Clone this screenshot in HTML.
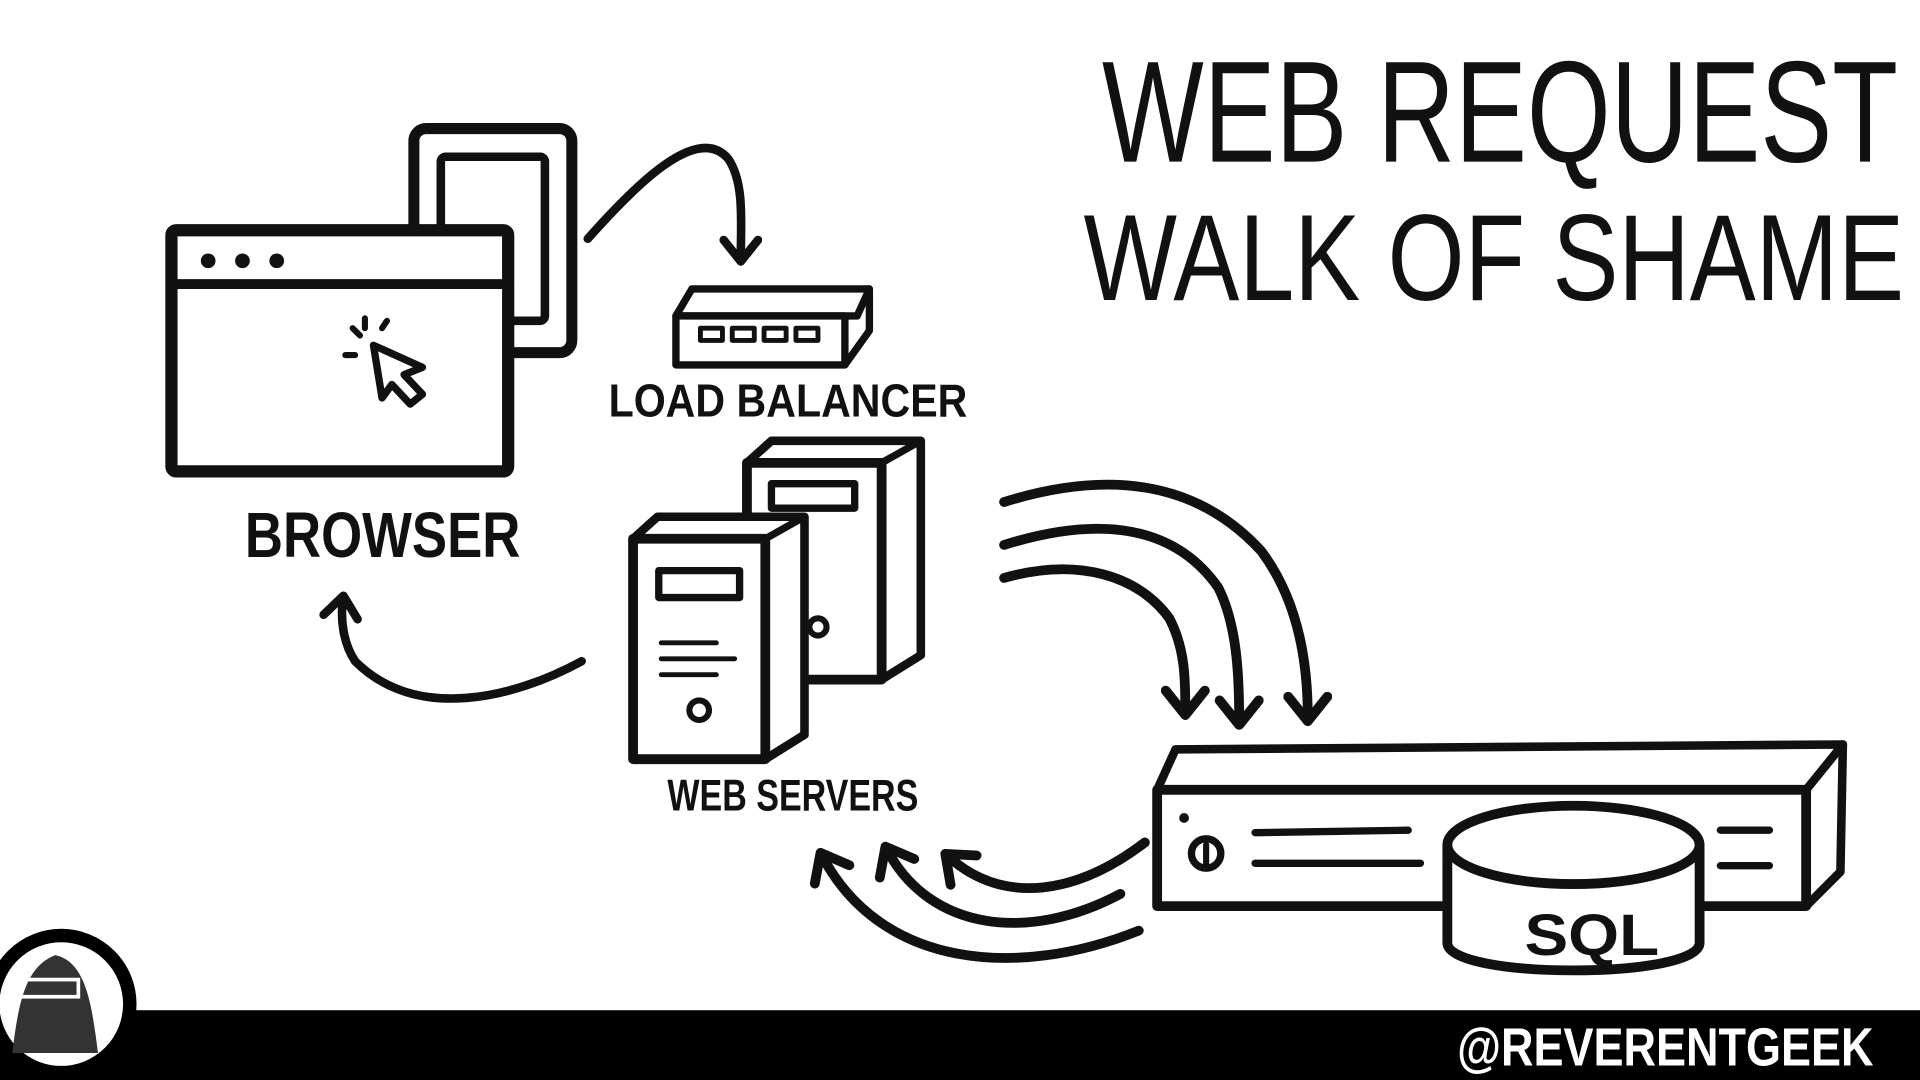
<!DOCTYPE html>
<html><head><meta charset="utf-8"><style>
html,body{margin:0;padding:0;background:#fff;width:1920px;height:1080px;overflow:hidden}
svg{display:block}
text{font-family:"Liberation Sans Narrow","Liberation Sans",sans-serif;font-weight:bold;fill:#111}
</style></head><body>
<svg width="1920" height="1080" viewBox="0 0 1568 882" preserveAspectRatio="none">
<defs>
<marker id="ah" viewBox="0 0 20 20" refX="10" refY="10" markerWidth="5" markerHeight="5" orient="auto-start-reverse" markerUnits="strokeWidth">
<path d="M2,2 L12,10 L2,18" fill="none" stroke="#111" stroke-width="4" stroke-linecap="round" stroke-linejoin="round"/>
</marker>
</defs>
<text x="900" y="132" font-size="118" style="font-weight:normal" textLength="650" lengthAdjust="spacingAndGlyphs">WEB REQUEST</text>
<text x="885" y="245" font-size="100" style="font-weight:normal" textLength="670" lengthAdjust="spacingAndGlyphs">WALK OF SHAME</text>

<g fill="none" stroke="#111" stroke-linecap="round" stroke-linejoin="round">
<rect x="338" y="105" width="129" height="183" rx="10" stroke-width="9"/>
<rect x="360" y="128" width="85" height="134" rx="4" stroke-width="7" fill="#fff"/>
<rect x="140" y="188" width="275" height="197" rx="4" stroke-width="10" fill="#fff"/>
<line x1="140" y1="232" x2="415" y2="232" stroke-width="8"/>
<path d="M305,282 L345,300 L330,306 L345,322 L335,330 L320,314 L312,325 Z" stroke-width="6"/>
<path d="M288,268 l6,6 M282,290 l8,0 M298,260 l0,8 M316,262 l-4,6" stroke-width="5"/>
<path d="M480,195 C520,150 570,100 595,130 C608,150 605,180 605,210" stroke-width="7" marker-end="url(#ah)"/>
<path d="M552,258 L565,236 L710,236 L700,258 Z" stroke-width="6" fill="#fff"/>
<rect x="552" y="258" width="138" height="40" stroke-width="6" fill="#fff"/>
<path d="M690,298 L710,270 L710,236" stroke-width="6"/>
<rect x="572" y="268" width="18" height="10" stroke-width="4"/>
<rect x="598" y="268" width="18" height="10" stroke-width="4"/>
<rect x="624" y="268" width="18" height="10" stroke-width="4"/>
<rect x="650" y="268" width="18" height="10" stroke-width="4"/>
<path d="M610,378 L630,360 L752,360 L752,535 L720,555" stroke-width="7" fill="#fff"/>
<rect x="610" y="378" width="110" height="177" stroke-width="8" fill="#fff"/>
<line x1="720" y1="378" x2="752" y2="360" stroke-width="6"/>
<rect x="630" y="395" width="68" height="20" stroke-width="6"/>
<path d="M517,440 L537,422 L657,422 L657,600 L625,620" stroke-width="7" fill="#fff"/>
<rect x="517" y="440" width="108" height="180" stroke-width="8" fill="#fff"/>
<line x1="625" y1="440" x2="657" y2="422" stroke-width="6"/>
<rect x="538" y="466" width="66" height="22" stroke-width="6"/>
<path d="M540,525 L585,525 M540,538 L600,538 M540,551 L585,551" stroke-width="4"/>
<circle cx="571" cy="580" r="8" stroke-width="5"/>
<circle cx="668" cy="512" r="7" stroke-width="5"/>
<path d="M475,540 C420,570 340,590 290,540 C280,525 278,505 280,490" stroke-width="7" marker-end="url(#ah)"/>
<path d="M820,410 C900,385 975,390 1030,450 C1060,490 1068,540 1068,585" stroke-width="8" marker-end="url(#ah)"/>
<path d="M820,445 C900,420 960,430 995,480 C1010,510 1012,550 1012,588" stroke-width="8" marker-end="url(#ah)"/>
<path d="M820,472 C880,455 930,470 955,505 C968,530 968,555 968,580" stroke-width="8" marker-end="url(#ah)"/>
<path d="M945,645 L960,612 L1505,608 L1475,645 Z" stroke-width="7" fill="#fff"/>
<rect x="945" y="645" width="530" height="95" stroke-width="8" fill="#fff"/>
<path d="M1475,740 L1503,712 L1505,608" stroke-width="7"/>
<circle cx="985" cy="697" r="12" stroke-width="6"/>
<line x1="985" y1="690" x2="985" y2="705" stroke-width="5"/>
<path d="M1025,680 L1150,678 M1025,705 L1160,705 M1405,678 L1445,678 M1405,707 L1445,707" stroke-width="6"/>
<circle cx="967" cy="668" r="3" fill="#111" stroke-width="2"/>
<path d="M1182,690 L1182,770 C1182,800 1388,800 1388,770 L1388,690" stroke-width="8" fill="#fff"/>
<ellipse cx="1285" cy="690" rx="103" ry="32" stroke-width="8" fill="#fff"/>
<path d="M935,688 C880,730 820,740 775,700" stroke-width="8" marker-end="url(#ah)"/>
<path d="M915,730 C840,770 760,760 725,695" stroke-width="8" marker-end="url(#ah)"/>
<path d="M930,760 C830,800 720,790 672,700" stroke-width="8" marker-end="url(#ah)"/>
</g>
<g fill="#111">
<circle cx="170" cy="213" r="6"/><circle cx="198" cy="213" r="6"/><circle cx="226" cy="213" r="6"/>
</g>
<text x="200" y="455" font-size="52" textLength="225" lengthAdjust="spacingAndGlyphs">BROWSER</text>
<text x="497" y="340" font-size="38" textLength="293" lengthAdjust="spacingAndGlyphs">LOAD BALANCER</text>
<text x="545" y="662" font-size="36" textLength="205" lengthAdjust="spacingAndGlyphs">WEB SERVERS</text>
<text x="1245" y="780" font-size="48" textLength="110" lengthAdjust="spacingAndGlyphs">SQL</text>
<rect x="0" y="825" width="1568" height="57" fill="#000"/>
<circle cx="50" cy="820" r="56" fill="#fff" stroke="#000" stroke-width="11"/>
<path d="M10,860 C15,820 20,790 45,780 C70,785 75,820 80,860 Z" fill="#333"/>
<rect x="14" y="800" width="50" height="14" fill="none" stroke="#fff" stroke-width="3"/>
<text x="1190" y="870" font-size="44" style="fill:#fff" textLength="340" lengthAdjust="spacingAndGlyphs">@REVERENTGEEK</text>
</svg>
</body></html>
